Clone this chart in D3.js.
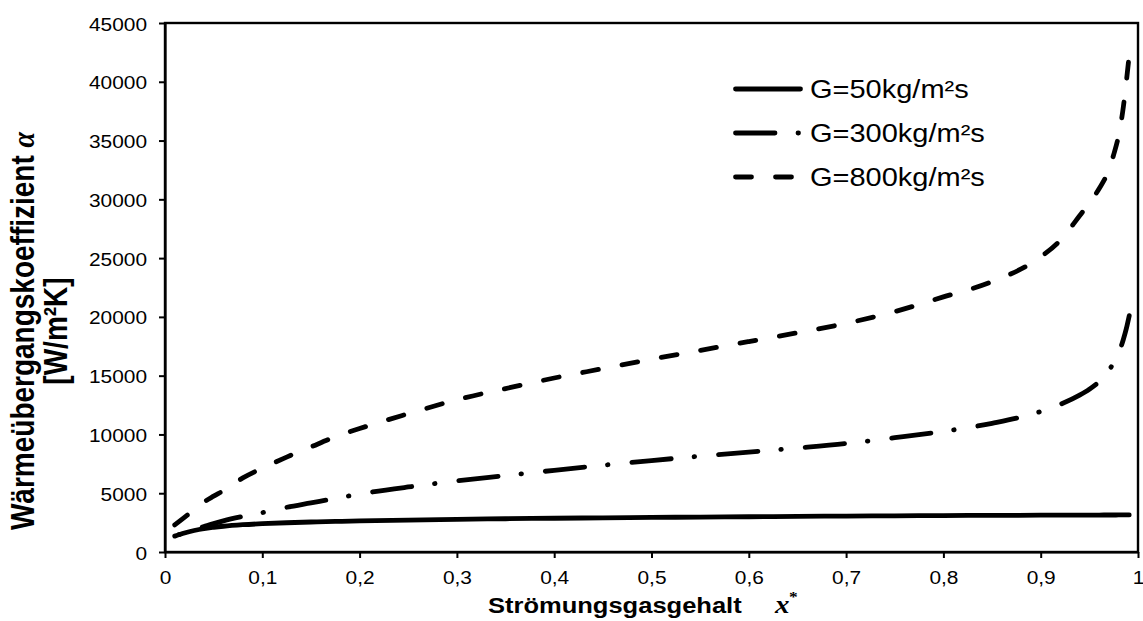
<!DOCTYPE html>
<html>
<head>
<meta charset="utf-8">
<script src="https://cdn.jsdelivr.net/npm/d3@7"></script>
<style>
  html, body { margin: 0; padding: 0; background: #fff; }
  svg { display: block; }
  text { font-family: "Liberation Sans", Arial, sans-serif; fill: #000; }
</style>
</head>
<body>
<svg id="chart" width="1143" height="621"></svg>
<script>
// ---------------- data ----------------
const xValues = [0.01,0.02,0.03,0.04,0.05,0.06,0.08,0.1,0.125,0.15,0.175,0.2,0.25,0.3,0.35,0.4,0.45,0.5,0.55,0.6,0.65,0.7,0.75,0.8,0.85,0.9,0.92,0.94,0.95,0.96,0.97,0.975,0.98,0.985,0.988,0.991];
const g50  = [1350,1620,1830,1990,2100,2190,2320,2410,2490,2550,2600,2640,2720,2780,2830,2870,2910,2940,2970,3000,3030,3060,3080,3100,3115,3130,3135,3140,3142,3145,3147,3148,3150,3150,3150,3150];
const g300 = [1350,1650,1920,2170,2420,2650,3030,3350,3800,4180,4560,4930,5530,6050,6500,6950,7380,7780,8150,8500,8850,9230,9720,10260,10950,11950,12560,13350,13850,14500,15450,16100,16900,18100,19000,20100];
const g800 = [2300,2950,3600,4250,4750,5220,6300,7130,8070,8940,9800,10500,11760,12950,13900,14800,15600,16400,17150,17900,18650,19450,20450,21700,23000,25100,26500,28600,29700,30900,32500,33800,35400,37900,40000,42300];
const seriesNames = ["G=50kg/m²s", "G=300kg/m²s", "G=800kg/m²s"];
const xTicks = [0,0.1,0.2,0.3,0.4,0.5,0.6,0.7,0.8,0.9,1];
const xTickLabels = ["0","0,1","0,2","0,3","0,4","0,5","0,6","0,7","0,8","0,9","1"];
const yTicks = [0,5000,10000,15000,20000,25000,30000,35000,40000,45000];
const yTickLabels = ["0","5000","10000","15000","20000","25000","30000","35000","40000","45000"];

// ---------------- layout ----------------
const SX = 1.16; // horizontal stretch of the text in the reference
const plot = {left: 165, right: 1138, top: 23, bottom: 552};
const svg = d3.select("#chart");

const x = d3.scaleLinear().domain([0, 1]).range([plot.left, plot.right]);
const y = d3.scaleLinear().domain([0, 45000]).range([plot.bottom, plot.top]);

function label(px, py, txt, opts = {}) {
  const g = svg.append("g")
    .attr("transform", `translate(${px},${py}) scale(${SX},1)` + (opts.rotate ? ` rotate(${opts.rotate})` : ""));
  const t = g.append("text")
    .attr("text-anchor", opts.anchor || "start")
    .style("font-size", (opts.size || 18) + "px")
    .style("font-weight", opts.bold ? "bold" : "normal");
  if (opts.family) t.style("font-family", opts.family);
  if (opts.italic) t.style("font-style", "italic");
  t.text(txt);
  return t;
}

// plot border
svg.append("rect")
  .attr("x", plot.left).attr("y", plot.top)
  .attr("width", plot.right - plot.left).attr("height", plot.bottom - plot.top)
  .attr("fill", "none").attr("stroke", "#000").attr("stroke-width", 2.4);

// axes
const yAxis = d3.axisLeft(y).tickValues(yTicks).tickSize(6).tickSizeOuter(0).tickFormat((d, i) => yTickLabels[i]);
const xAxis = d3.axisBottom(x).tickValues(xTicks).tickSize(6).tickSizeOuter(0).tickFormat((d, i) => xTickLabels[i]);

const gy = svg.append("g").attr("transform", `translate(${plot.left},0)`).call(yAxis);
const gx = svg.append("g").attr("transform", `translate(0,${plot.bottom})`).call(xAxis);

[gy, gx].forEach(g => {
  g.select(".domain").attr("stroke", "#000").attr("stroke-width", 2.2);
  g.selectAll(".tick line").attr("stroke", "#000").attr("stroke-width", 2);
  g.selectAll(".tick text")
    .attr("fill", "#000")
    .style("font-family", '"Liberation Sans", Arial, sans-serif')
    .style("font-size", "18px")
    .attr("dy", 0);
});
gy.selectAll(".tick text").attr("x", -18 / SX).attr("y", 7).attr("transform", `scale(${SX},1)`);
gx.selectAll(".tick text").attr("y", 32.5).attr("transform", `scale(${SX},1)`);

// series lines
const line = d3.line().x((d, i) => x(xValues[i])).y(d => y(d)).curve(d3.curveMonotoneX);
const styles = [
  {data: g50,  dash: null},
  {data: g300, dash: "39.5,23,0.5,24", offset: 58},
  {data: g800, dash: "16,24", offset: 0}
];
styles.forEach(s => {
  const p = svg.append("path")
    .attr("d", line(s.data))
    .attr("fill", "none")
    .attr("stroke", "#000")
    .attr("stroke-width", 4.8)
    .attr("stroke-linecap", "round")
    .attr("stroke-linejoin", "round");
  if (s.dash) p.attr("stroke-dasharray", s.dash).attr("stroke-dashoffset", s.offset);
});

// legend
const legendRows = [89, 133, 177];
const legendX0 = 735.5, legendX1 = 800.5;
seriesNames.forEach((name, i) => {
  const st = styles[i];
  const p = svg.append("path")
    .attr("d", d3.line()([[legendX0, legendRows[i]], [legendX1, legendRows[i]]]))
    .attr("fill", "none").attr("stroke", "#000").attr("stroke-width", 4.8)
    .attr("stroke-linecap", "round");
  if (st.dash) p.attr("stroke-dasharray", st.dash);
  label(810, legendRows[i] + 9, name, {size: 25});
});

// x axis title
label(488, 613, "Strömungsgasgehalt", {size: 22, bold: true});
label(775, 613, "x", {size: 25, bold: true, italic: true, family: '"Liberation Serif", "Times New Roman", serif'});
label(789, 602, "*", {size: 15, bold: true, family: '"Liberation Serif", "Times New Roman", serif'});

// y axis title (two lines, rotated)
const yt1 = label(33.5, 331, "", {size: 28, bold: true, anchor: "middle", rotate: -90});
yt1.append("tspan").text("Wärmeübergangskoeffizient ");
yt1.append("tspan").style("font-family", '"Liberation Serif", "Times New Roman", serif').style("font-style", "italic").text("α");
label(66.5, 331, "[W/m²K]", {size: 28, bold: true, anchor: "middle", rotate: -90});
</script>
</body>
</html>
